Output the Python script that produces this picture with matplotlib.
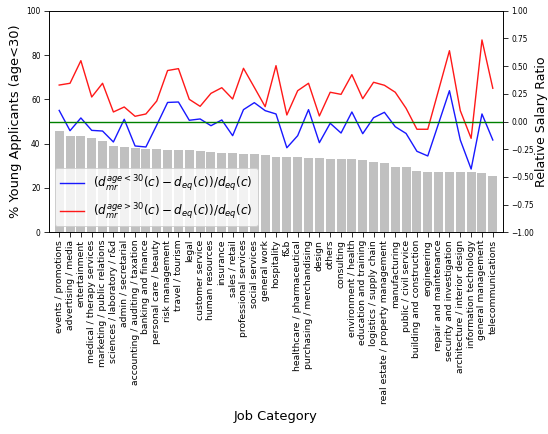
import matplotlib
matplotlib.use("Agg")
import matplotlib.pyplot as plt
import numpy as np

categories = [
    "events / promotions", "advertising / media", "entertainment",
    "medical / therapy services", "marketing / public relations",
    "sciences / laboratory / r&d", "admin / secretarial",
    "accounting / auditing / taxation", "banking and finance",
    "personal care / beauty", "risk management", "travel / tourism", "legal",
    "customer service", "human resources", "insurance", "sales / retail",
    "professional services", "social services", "general work", "hospitality",
    "f&b", "healthcare / pharmaceutical", "purchasing / merchandising",
    "design", "others", "consulting", "environment / health",
    "education and training", "logistics / supply chain",
    "real estate / property management", "manufacturing",
    "public / civil service", "building and construction", "engineering",
    "repair and maintenance", "security and investigation",
    "architecture / interior design", "information technology",
    "general management", "telecommunications",
]

# share of applicants younger than 30, per category (%)
young_share = [
    45.8, 43.6, 43.3, 42.6, 41.3, 38.9, 38.5, 38.2, 37.7, 37.6, 37.3, 37.3,
    37.0, 36.7, 36.2, 35.9, 35.8, 35.5, 35.2, 34.8, 34.1, 34.0, 34.0, 33.7,
    33.6, 33.3, 33.2, 33.2, 32.8, 31.9, 31.1, 29.6, 29.5, 27.7, 27.3, 27.2,
    27.2, 27.2, 27.2, 26.9, 25.5,
]

# relative salary ratio, applicants under / over 30
ratio_young = [
    0.100, -0.083, 0.032, -0.080, -0.086, -0.185, 0.020, -0.221, -0.230,
    -0.032, 0.172, 0.176, 0.011, 0.023, -0.038, 0.014, -0.128, 0.107, 0.170,
    0.098, 0.068, -0.237, -0.128, 0.107, -0.191, -0.016, -0.104, 0.086,
    -0.110, 0.034, 0.083, -0.047, -0.108, -0.269, -0.311, -0.017, 0.278,
    -0.167, -0.429, 0.068, -0.167,
]
ratio_old = [
    0.329, 0.345, 0.549, 0.221, 0.345, 0.086, 0.131, 0.047, 0.068, 0.185,
    0.460, 0.477, 0.200, 0.137, 0.254, 0.305, 0.203, 0.480, 0.308, 0.134,
    0.504, 0.059, 0.278, 0.345, 0.050, 0.264, 0.245, 0.423, 0.206, 0.354,
    0.327, 0.264, 0.119, -0.070, -0.070, 0.284, 0.639, 0.098, -0.152, 0.736,
    0.300,
]

x = np.arange(len(categories))

fig = plt.figure(figsize=(548 / 72, 434 / 72), dpi=72)
ax = fig.add_axes([49 / 548, 1 - 232.3 / 434, 454 / 548, 221.6 / 434])
ax.bar(x, young_share, width=0.83, color="#c0c0c0")
ax.set_ylim(0, 100)
ax.set_xlim(-0.94, len(categories) - 0.06)
ax.set_xticks(x)
ax.set_xticklabels(categories, rotation=90, fontsize=9.2)
ax.tick_params(axis="y", labelsize=7.5, length=5)
ax.tick_params(axis="x", length=5, pad=2.5)
ax.set_ylabel("% Young Applicants (age<30)", fontsize=13)
ax.set_xlabel("Job Category", fontsize=13, labelpad=6)

ax2 = ax.twinx()
ax2.plot(x, ratio_young, color="blue", lw=1.4, alpha=0.9,
         label=r"$(d_{mr}^{age<30}(c) - d_{eq}(c))/d_{eq}(c)$")
ax2.plot(x, ratio_old, color="red", lw=1.4, alpha=0.9,
         label=r"$(d_{mr}^{age>30}(c) - d_{eq}(c))/d_{eq}(c)$")
ax2.axhline(0, color="green", lw=1.4)
ax2.set_ylim(-1, 1)
ax2.set_yticks(np.arange(-1, 1.01, 0.25))
ax2.tick_params(axis="y", labelsize=7.5, length=5)
ax2.set_ylabel("Relative Salary Ratio", fontsize=12.5, labelpad=1)
ax2.legend(loc="lower left", fontsize=12)

fig.savefig("out.png", dpi=72)
